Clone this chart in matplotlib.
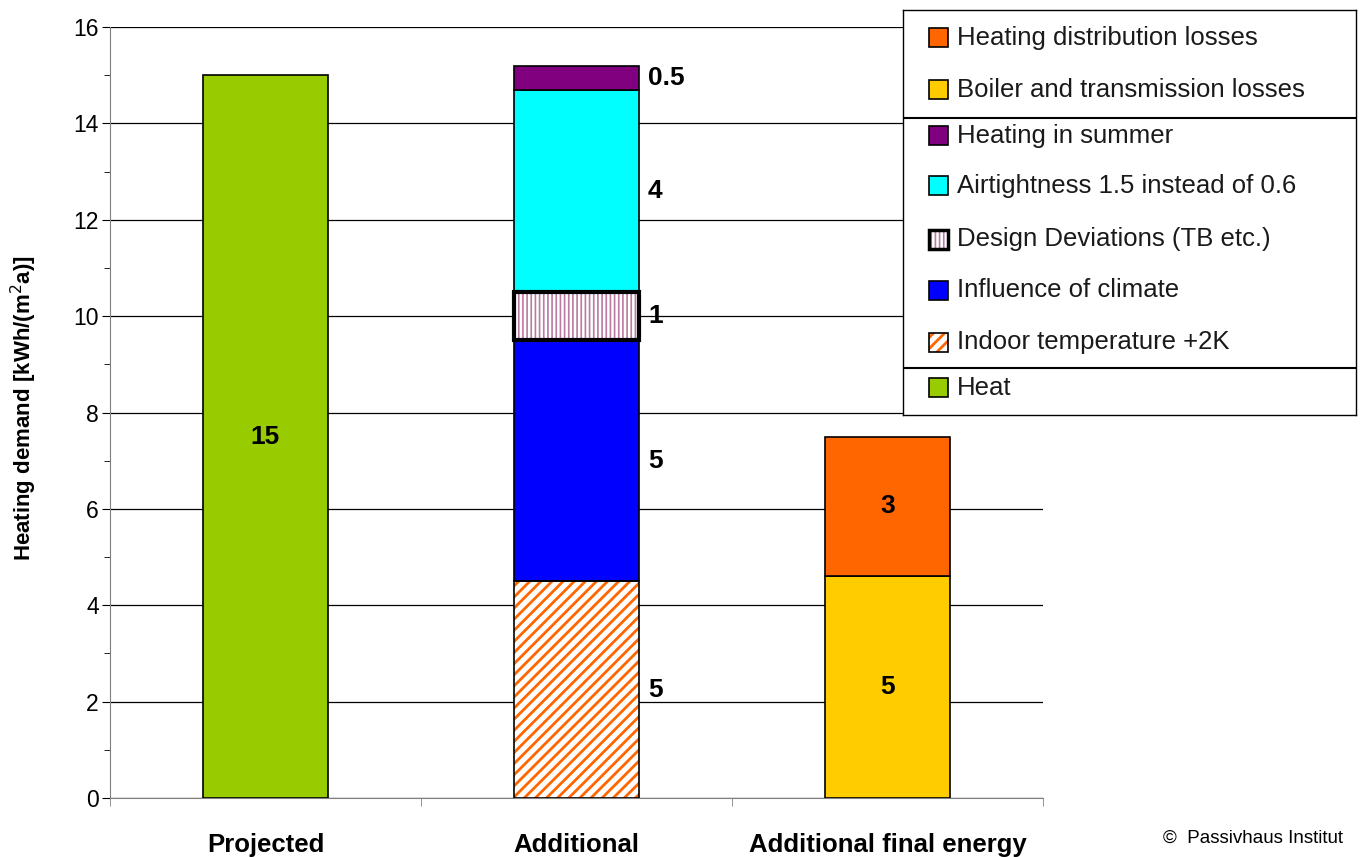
import matplotlib
matplotlib.use('Agg')
import matplotlib.pyplot as plt
from matplotlib.patches import Rectangle

plt.rcParams['font.family'] = ['Liberation Sans', 'DejaVu Sans']
plt.rcParams['hatch.linewidth'] = 2.0

# categories on the x axis
categories = ['Projected', 'Additional', 'Additional final energy']

# stacked segments, bottom to top
projected_heat = [15.0]
additional_parts = [4.5, 5.0, 1.0, 4.2, 0.5]
additional_labels = ['5', '5', '1', '4', '0.5']
final_parts = [4.6, 2.9]
final_labels = ['5', '3']

styles = {
    'heat':      dict(color='#99CC00', name='Heat'),
    'indoor':    dict(color='white', hatch='///', hcolor='#FF6600', name='Indoor temperature +2K'),
    'climate':   dict(color='#0000FF', name='Influence of climate'),
    'design':    dict(color='white', hatch='||||', hcolor='#B87AA0', name='Design Deviations (TB etc.)'),
    'airtight':  dict(color='#00FFFF', name='Airtightness 1.5 instead of 0.6'),
    'summer':    dict(color='#800080', name='Heating in summer'),
    'boiler':    dict(color='#FFCC00', name='Boiler and transmission losses'),
    'distrib':   dict(color='#FF6600', name='Heating distribution losses'),
}
additional_keys = ['indoor', 'climate', 'design', 'airtight', 'summer']
final_keys = ['boiler', 'distrib']

fig = plt.figure(figsize=(13.6, 8.57), dpi=100)
W, H = 1360, 857
ax = fig.add_axes([110 / W, (857 - 798) / H, (1043 - 110) / W, (798 - 27) / H])

bar_w = 0.4


def hatch_lw(key):
    return 1.2 if key == 'design' else 2.0


def draw_segment(x, bottom, value, key):
    st = styles[key]
    if 'hatch' in st:
        plt.rcParams['hatch.linewidth'] = hatch_lw(key)
        ax.bar(x, value, bar_w, bottom=bottom, color='white', hatch=st['hatch'],
               edgecolor=st['hcolor'], linewidth=0, zorder=3)
        lw = 3.0 if key == 'design' else 1.2
        ax.bar(x, value, bar_w, bottom=bottom, facecolor='none',
               edgecolor='black', linewidth=lw, zorder=4)
    else:
        ax.bar(x, value, bar_w, bottom=bottom, color=st['color'],
               edgecolor='black', linewidth=1.2, zorder=3)


label_font = dict(fontsize=19, fontweight='bold', color='black', zorder=6)

# Projected
draw_segment(0, 0, projected_heat[0], 'heat')
ax.text(0, projected_heat[0] / 2, '15', ha='center', va='center', **label_font)

# Additional
bottom = 0
for v, lab, key in zip(additional_parts, additional_labels, additional_keys):
    draw_segment(1, bottom, v, key)
    ax.text(1 + bar_w / 2 + 0.03, bottom + v / 2, lab, ha='left', va='center', **label_font)
    bottom += v

# Additional final energy
bottom = 0
for v, lab, key in zip(final_parts, final_labels, final_keys):
    draw_segment(2, bottom, v, key)
    ax.text(2, bottom + v / 2, lab, ha='center', va='center', **label_font)
    bottom += v

ax.set_xlim(-0.5, 2.5)
ax.set_ylim(0, 16)
ax.set_yticks(range(0, 17, 2))
ax.set_yticks(range(1, 17, 2), minor=True)
ax.tick_params(axis='y', which='major', direction='out', length=6, labelsize=16.5, pad=2)
ax.tick_params(axis='y', which='minor', direction='out', length=4)
ax.yaxis.grid(True, which='major', color='black', linewidth=0.9, zorder=0)
ax.set_axisbelow(True)

ax.set_xticks([0, 1, 2])
ax.set_xticklabels(categories, fontsize=18.5, fontweight='bold')
ax.tick_params(axis='x', which='major', length=0, pad=25)
ax.set_xticks([-0.5, 0.5, 1.5, 2.5], minor=True)
ax.tick_params(axis='x', which='minor', direction='out', length=6, color='gray')

for s in ['top', 'right']:
    ax.spines[s].set_visible(False)
ax.spines['left'].set_color('gray')
ax.spines['bottom'].set_color('gray')

ax.set_ylabel('Heating demand [kWh/(m$^2$a)]', fontsize=16, fontweight='bold')
ax.yaxis.set_label_coords(-0.076, 0.505)

# legend box with group separators
lax = fig.add_axes([903 / W, (857 - 415) / H, (1356 - 903) / W, (415 - 10) / H], zorder=10)
lax.set_xlim(0, 453)
lax.set_ylim(405, 0)
lax.set_xticks([])
lax.set_yticks([])
for s in lax.spines.values():
    s.set_linewidth(1.0)
    s.set_color('black')

legend_rows = [('distrib', 28), ('boiler', 80), ('summer', 126), ('airtight', 176),
               ('design', 229), ('climate', 280), ('indoor', 332), ('heat', 378)]
for key, yc in legend_rows:
    st = styles[key]
    if 'hatch' in st:
        plt.rcParams['hatch.linewidth'] = hatch_lw(key)
        lax.add_patch(Rectangle((26, yc - 9.5), 19, 19, facecolor='white', hatch=st['hatch'],
                                edgecolor=st['hcolor'], linewidth=0))
        lax.add_patch(Rectangle((26, yc - 9.5), 19, 19, facecolor='none', edgecolor='black',
                                linewidth=2.5 if key == 'design' else 1.2))
    else:
        lax.add_patch(Rectangle((26, yc - 9.5), 19, 19, facecolor=st['color'],
                                edgecolor='black', linewidth=1.2))
    lax.text(54, yc, st['name'], ha='left', va='center', fontsize=18.5, color='#1a1a1a')

for ys in [108, 358]:
    lax.plot([0, 453], [ys, ys], color='black', linewidth=1.5)

fig.text(1163 / W, 1 - 838 / H, '\u00a9  Passivhaus Institut', ha='left', va='center', fontsize=13.5)

fig.savefig('out.png', dpi=100)
